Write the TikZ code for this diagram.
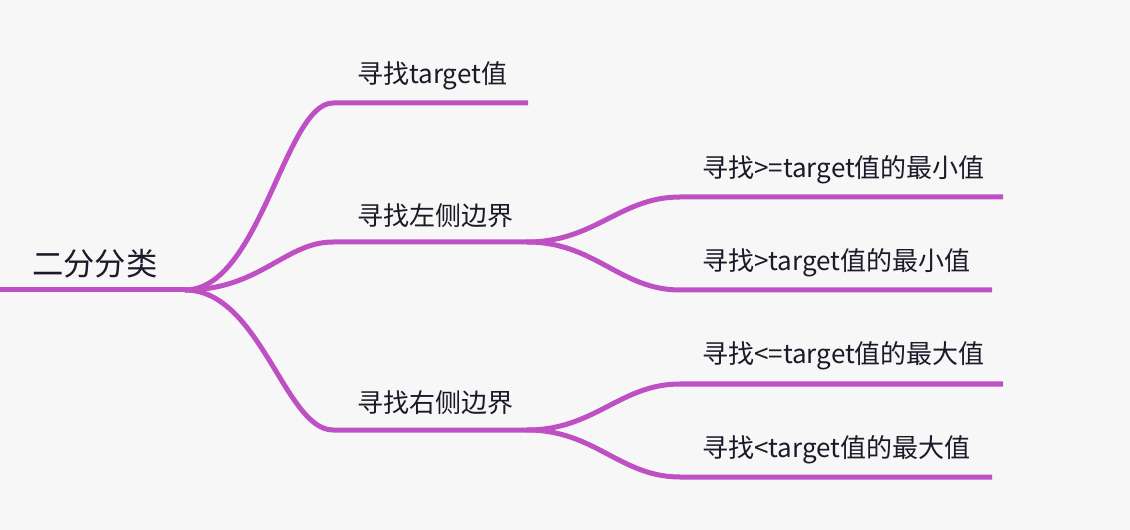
\documentclass[tikz,border=0pt]{standalone}
\usepackage{fontspec}
\setmainfont{Noto Sans CJK SC}
\definecolor{branch}{HTML}{BE50C4}
\definecolor{ink}{HTML}{1A1A28}
\definecolor{paper}{HTML}{F7F7F7}

\begin{document}
\begin{tikzpicture}[
  x = 0.75pt,
  y = -0.75pt,
  branch/.style = {draw = branch, line width = 3.75pt},
  topic/.style = {anchor = west, inner sep = 0pt, text = ink,
    font = \fontsize{19.5}{19.5}\selectfont},
  root/.style = {topic, font = \fontsize{23.5}{23.5}\selectfont},
  ]

  \fill [paper] (0, 0) rectangle (1130, 530);
  \useasboundingbox (0, 0) rectangle (1130, 530);

  \node at (32, 264)
  [root, name = Binary] {二分分类};

  \node at (357, 76)
  [topic, name = FindTarget] {寻找target值};

  \node at (357, 216)
  [topic, name = LeftBound] {寻找左侧边界};

  \node at (357, 403)
  [topic, name = RightBound] {寻找右侧边界};

  \node at (702, 170)
  [topic, name = LeftGe] {寻找>=target值的最小值};

  \node at (702, 263)
  [topic, name = LeftGt] {寻找>target值的最小值};

  \node at (702, 356)
  [topic, name = RightLe] {寻找<=target值的最大值};

  \node at (702, 450)
  [topic, name = RightLt] {寻找<target值的最大值};

  \coordinate (BinaryStart) at (0, 290);
  \coordinate (BinaryHub) at (185, 290);
  \coordinate (FindTargetEnd) at (528, 103);
  \coordinate (LeftHub) at (527, 242);
  \coordinate (RightHub) at (527, 430);
  \coordinate (LeftGeEnd) at (1003, 197);
  \coordinate (LeftGtEnd) at (992, 290);
  \coordinate (RightLeEnd) at (1003, 384);
  \coordinate (RightLtEnd) at (992, 477);

  \draw [branch] (BinaryStart) -- (BinaryHub);

  \draw [branch] (BinaryHub) .. controls (260, 290) and (285, 103) .. (333, 103) -- (FindTargetEnd);

  \draw [branch] (BinaryHub) .. controls (260, 290) and (285, 242) .. (333, 242) -- (LeftHub);

  \draw [branch] (BinaryHub) .. controls (260, 290) and (285, 430) .. (333, 430) -- (RightHub);

  \draw [branch] (LeftHub) .. controls (595, 242) and (620, 197) .. (680, 197) -- (LeftGeEnd);

  \draw [branch] (LeftHub) .. controls (595, 242) and (620, 290) .. (680, 290) -- (LeftGtEnd);

  \draw [branch] (RightHub) .. controls (595, 430) and (620, 384) .. (680, 384) -- (RightLeEnd);

  \draw [branch] (RightHub) .. controls (595, 430) and (620, 477) .. (680, 477) -- (RightLtEnd);

\end{tikzpicture}
\end{document}
